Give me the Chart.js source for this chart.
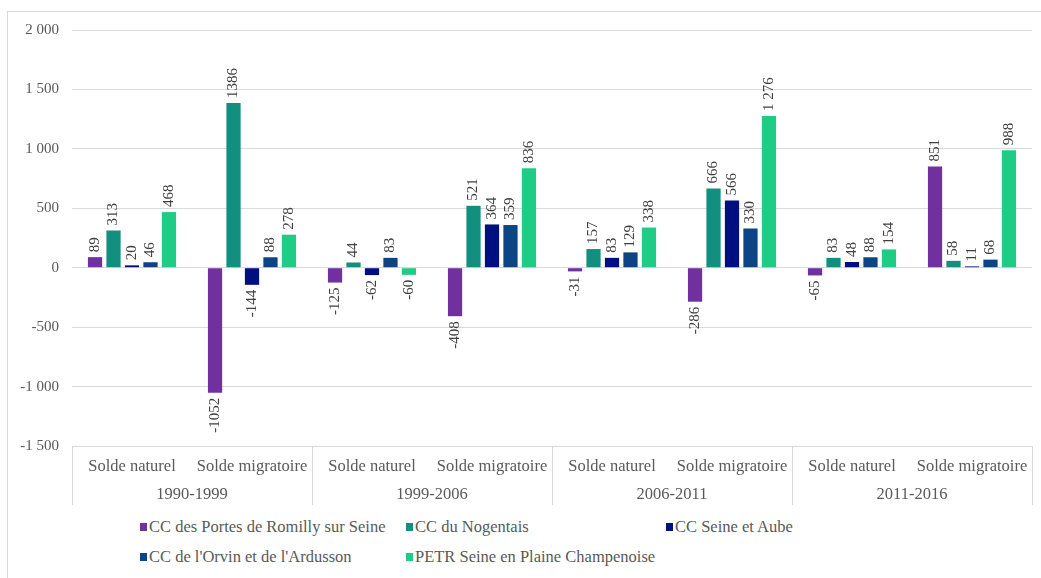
<!DOCTYPE html>
<html>
<head>
<meta charset="utf-8">
<script src="https://cdn.jsdelivr.net/npm/chart.js@4/dist/chart.umd.min.js"></script>
<style>
  body { margin: 0; width: 1041px; height: 578px; overflow: hidden; background: #fff; font-family: "Liberation Serif", serif; }
  #cadre { position: absolute; left: 7px; top: 11px; width: 1100px; height: 640px; border: 1px solid #d9d9d9; }
  #graph { position: absolute; left: 0; top: 0; }
  #legende { position: absolute; left: 140px; top: 517px; display: grid; grid-template-columns: 266px 260px auto; row-gap: 10px; font-size: 16.5px; color: #595959; }
  #legende div { display: flex; align-items: center; height: 20px; white-space: nowrap; }
  #legende span.carre { display: inline-block; width: 7px; height: 8px; margin-right: 2px; }
</style>
</head>
<body>
<div id="cadre"></div>
<canvas id="graph" width="1041" height="515"></canvas>
<div id="legende"></div>
<script>
// ===============================
// Données
// ===============================
const periodes = ["1990-1999", "1999-2006", "2006-2011", "2011-2016"];
const soldes = ["Solde naturel", "Solde migratoire"];

const romilly  = [89, -1052, -125, -408, -31, -286, -65, 851];
const nogentais = [313, 1386, 44, 521, 157, 666, 83, 58];
const seineAube = [20, -144, -62, 364, 83, 566, 48, 11];
const orvin    = [46, 88, 83, 359, 129, 330, 88, 68];
const petr     = [468, 278, -60, 836, 338, 1276, 154, 988];

const series = ["CC des Portes de Romilly sur Seine", "CC du Nogentais", "CC Seine et Aube",
  "CC de l'Orvin et de l'Ardusson", "PETR Seine en Plaine Champenoise"];
const couleurs = ["#7030a0", "#138f80", "#000f80", "#0b4585", "#1fcc85"];

const yTicks = [-1500, -1000, -500, 0, 500, 1000, 1500, 2000];

// libellés : une catégorie par couple période / solde
const categories = [];
periodes.forEach(p => soldes.forEach(s => categories.push(s)));

function espaces(v) {
  const s = String(Math.abs(v)).replace(/\B(?=(\d{3})+(?!\d))/g, " ");
  return (v < 0 ? "-" : "") + s;
}

// seule la série PETR a le format avec espace
const formats = [String, String, String, String, espaces];

const gris = "#595959";
const police = "Liberation Serif";

// ===============================
// Plugins
// ===============================
const etiquettes = {
  id: "etiquettes",
  afterDatasetsDraw(chart) {
    const ctx = chart.ctx;
    ctx.save();
    ctx.font = "15px '" + police + "'";
    ctx.fillStyle = "#404040";
    ctx.textBaseline = "middle";
    chart.data.datasets.forEach((ds, i) => {
      const meta = chart.getDatasetMeta(i);
      meta.data.forEach((bar, j) => {
        const v = ds.data[j];
        ctx.save();
        if (v >= 0) {
          ctx.translate(bar.x, bar.y - 5);
          ctx.rotate(-Math.PI / 2);
          ctx.textAlign = "left";
        } else {
          ctx.translate(bar.x, bar.y + 5);
          ctx.rotate(-Math.PI / 2);
          ctx.textAlign = "right";
        }
        ctx.fillText(formats[i](v), 0, 0);
        ctx.restore();
      });
    });
    ctx.restore();
  }
};

const separateurs = {
  id: "separateurs",
  afterDraw(chart) {
    const xs = chart.scales.x;
    const x2 = chart.scales.x2;
    const ctx = chart.ctx;
    ctx.save();
    ctx.strokeStyle = "#d9d9d9";
    ctx.lineWidth = 1;
    for (let k = 0; k <= periodes.length; k++) {
      const x = Math.round(xs.left + k * xs.width / periodes.length) + 0.5;
      ctx.beginPath();
      ctx.moveTo(x, chart.chartArea.bottom);
      ctx.lineTo(x, x2.bottom);
      ctx.stroke();
    }
    ctx.restore();
  }
};

// ===============================
// Graphique
// ===============================
const valeurs = [romilly, nogentais, seineAube, orvin, petr];

const chart = new Chart(document.getElementById("graph"), {
  type: "bar",
  data: {
    labels: categories,
    datasets: valeurs.map((d, i) => ({
      label: series[i],
      data: d,
      backgroundColor: couleurs[i],
      borderWidth: 0,
      categoryPercentage: 0.77,
      barPercentage: 0.77
    }))
  },
  options: {
    responsive: false,
    animation: false,
    layout: { padding: { top: 30, left: 8, right: 9, bottom: 10 } },
    plugins: {
      legend: { display: false },
      tooltip: { enabled: false }
    },
    scales: {
      x: {
        weight: 0,
        grid: { display: false, drawTicks: false },
        border: { display: false },
        ticks: { color: gris, font: { family: police, size: 16.5 }, padding: 11, maxRotation: 0, autoSkip: false },
        afterFit: s => { s.height = 35; }
      },
      x2: {
        type: "category",
        labels: periodes,
        position: "bottom",
        weight: 1,
        offset: true,
        grid: { display: false, drawTicks: false },
        border: { display: false },
        ticks: { color: gris, font: { family: police, size: 16.5 }, padding: 4, maxRotation: 0 },
        afterFit: s => { s.height = 24; }
      },
      y: {
        min: yTicks[0],
        max: yTicks[yTicks.length - 1],
        afterBuildTicks: s => { s.ticks = yTicks.map(v => ({ value: v })); },
        grid: { color: "#d9d9d9", drawTicks: false },
        border: { display: false },
        ticks: { color: gris, font: { family: police, size: 15 }, padding: 13, callback: v => espaces(v) },
        afterFit: s => { s.width = 64; }
      }
    }
  },
  plugins: [etiquettes, separateurs]
});

// Légende
const legende = document.getElementById("legende");
chart.data.datasets.forEach(ds => {
  const item = document.createElement("div");
  item.innerHTML = `<span class="carre" style="background:${ds.backgroundColor}"></span>${ds.label}`;
  legende.appendChild(item);
});
</script>
</body>
</html>
